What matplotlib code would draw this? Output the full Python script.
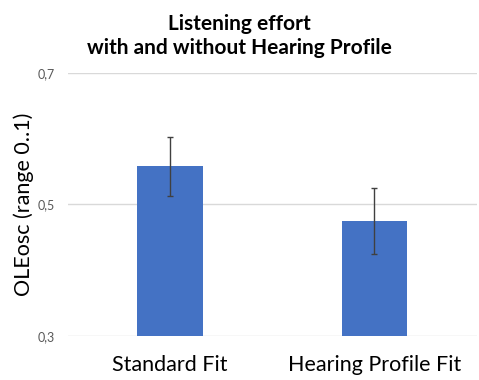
import matplotlib
matplotlib.use("Agg")
import matplotlib.pyplot as plt
import numpy as np

plt.rcParams['font.family'] = ['Lato', 'DejaVu Sans']

categories = ['Standard Fit', 'Hearing Profile Fit']
means = [0.558, 0.475]
errors = [0.045, 0.050]
yticks = [0.3, 0.5, 0.7]
ytick_labels = ['0,3', '0,5', '0,7']

fig = plt.figure(figsize=(4.79, 3.80), dpi=100)
ax = fig.add_axes([0.141, 0.116, 0.854, 0.692])

x = np.arange(len(categories))
ax.bar(x, [m - 0.3 for m in means], bottom=0.3, width=0.32, color='#4472C4', zorder=3)
ax.errorbar(x, means, yerr=errors, fmt='none', ecolor='#404040', elinewidth=1.0,
            capsize=2.5, capthick=1.0, zorder=4)

ax.set_xlim(-0.5, 1.5)
ax.set_ylim(0.3, 0.7)
ax.set_yticks(yticks)
ax.set_yticklabels(ytick_labels, color='#595959', fontsize=9)
ax.set_xticks(x)
ax.set_xticklabels(categories, fontsize=15.5)
ax.yaxis.grid(True, color='#D9D9D9', linewidth=1.0, zorder=0)
ax.tick_params(axis='both', length=0)
ax.tick_params(axis='y', pad=9)
ax.tick_params(axis='x', pad=14)
for s in ax.spines.values():
    s.set_visible(False)

ax.set_ylabel('OLEosc (range 0..1)', fontsize=15.5, labelpad=3)
fig.text(0.5, 0.962, 'Listening effort\nwith and without Hearing Profile', ha='center', va='top',
         fontsize=15, fontweight='bold', linespacing=1.25)

fig.savefig('out.png', dpi=100)
